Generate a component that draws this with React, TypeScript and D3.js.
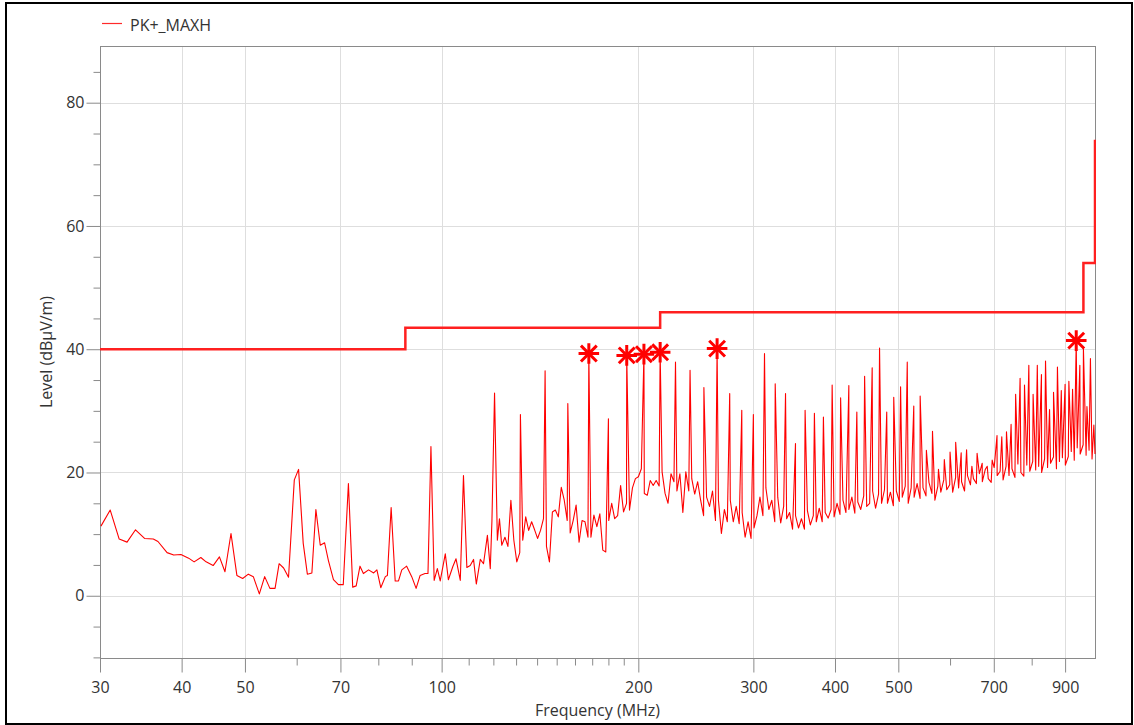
import { useEffect, useRef } from 'react';
import * as d3 from 'd3';

const WIDTH = 1134;
const HEIGHT = 725;

// Legend / titles
const traceName = 'PK+_MAXH';
const xTitle = 'Frequency (MHz)';
const yTitle = 'Level (dBµV/m)';

// Axis ticks
const freqMajor = [30, 40, 50, 70, 100, 200, 300, 400, 500, 700, 900];
const freqMinor = [60, 80, 90, 110, 120, 130, 140, 150, 160, 170, 180, 190, 600, 800];
const levelMajor = [0, 20, 40, 60, 80];
const levelMinor = [-10, -5, 5, 10, 15, 25, 30, 35, 45, 50, 55, 65, 70, 75, 85];

// Limit line (dBµV/m)
const limitFreq = [30, 88, 88, 216, 216, 960, 960, 1000, 1000];
const limitLevel = [40, 40, 43.5, 43.5, 46, 46, 54, 54, 74];

// Sweep readings 30 - 124 MHz
const lowFreq = [
    30.1, 31.1, 32.1, 33.0, 34.0, 35.1, 36.2, 36.8, 38.0, 38.9,
    39.9, 41.0, 41.8, 42.8, 43.6, 44.7, 45.7, 46.6, 47.6, 48.6,
    49.6, 50.6, 51.5, 52.6, 53.6, 54.6, 55.6, 56.4, 57.3, 58.3,
    59.5, 60.4, 61.4, 62.3, 63.3, 64.2, 65.2, 66.2, 67.1, 68.3,
    69.5, 70.7, 72.0, 73.1, 74.0, 75.0, 75.9, 77.3, 78.7, 79.6,
    80.7, 82.0, 82.6, 83.7, 84.9, 85.9, 86.9, 88.4, 90.0, 91.4,
    92.7, 94.3, 95.3, 96.3, 97.4, 98.5, 99.5, 101.3, 102.4, 104.0,
    105.2, 106.8, 108.0, 109.3, 110.6, 111.9, 113.0, 114.6, 115.9, 117.5,
    118.7, 119.4, 120.5, 121.7, 122.6, 123.6,
];
const lowLevel = [
    11.3, 13.9, 9.2, 8.7, 10.7, 9.3, 9.2, 8.8, 7.0, 6.6,
    6.7, 6.1, 5.5, 6.2, 5.5, 4.9, 6.3, 3.9, 10.1, 3.3,
    2.8, 3.5, 3.1, 0.3, 3.1, 1.2, 1.2, 5.2, 4.5, 3.0,
    18.8, 20.5, 8.5, 3.5, 3.7, 14.0, 8.2, 8.6, 5.7, 2.6,
    1.8, 1.8, 18.2, 1.4, 1.6, 4.8, 3.6, 4.2, 3.7, 4.2,
    1.3, 3.1, 3.3, 14.3, 2.4, 2.4, 4.2, 4.8, 3.1, 1.2,
    3.3, 3.6, 3.6, 24.2, 2.5, 4.4, 2.4, 6.8, 2.6, 4.7,
    6.0, 2.5, 19.5, 4.6, 4.9, 5.9, 1.9, 5.9, 5.2, 9.8,
    4.4, 12.2, 32.9, 9.0, 12.5, 8.2,
];

// Noise floor 125 - 1000 MHz, read on the receiver's log sweep grid
const floorStart = 125;
const floorStop = 1000;
const floorLevel = [
    9.5, 8.0, 15.5, 9.0, 5.5, 7.0, 9.0, 12.8, 10.6, 12.0,
    10.7, 9.3, 10.6, 12.5, 8.0, 5.5, 13.6, 13.9, 12.8, 17.6,
    15.5, 12.2, 10.2, 12.2, 14.7, 8.7, 12.2, 12.0, 9.5, 9.5,
    13.1, 11.2, 13.3, 7.4, 7.1, 12.2, 15.0, 12.5, 13.0, 17.9,
    13.6, 15.0, 13.9, 17.5, 19.0, 19.3, 20.6, 16.6, 16.3, 18.7,
    17.9, 18.7, 17.8, 20.1, 16.6, 15.0, 19.8, 18.5, 17.0, 19.8,
    13.5, 20.1, 17.0, 19.0, 16.5, 18.5, 15.5, 13.0, 16.0, 14.5,
    17.0, 12.2, 15.5, 10.1, 14.0, 12.0, 15.5, 12.0, 14.5, 11.7,
    13.5, 9.5, 12.0, 9.3, 11.0, 13.0, 16.0, 13.0, 17.5, 14.0,
    15.5, 12.0, 16.0, 11.8, 14.5, 12.5, 13.5, 10.8, 13.0, 11.0,
    12.5, 10.8, 13.8, 11.5, 13.0, 12.0, 14.2, 12.0, 13.5, 12.6,
    14.0, 12.8, 15.0, 13.2, 15.5, 13.5, 14.0, 16.0, 13.4, 15.2,
    14.0, 16.2, 14.5, 15.0, 17.0, 14.2, 16.5, 15.0, 17.2, 15.0,
    16.8, 14.6, 17.0, 15.3, 16.0, 17.8, 15.0, 17.5, 16.0, 18.2,
    15.8, 17.5, 16.2, 18.4, 16.6, 15.5, 17.8, 16.8, 18.8, 17.2,
    18.0, 16.8, 19.2, 17.5, 18.5, 17.0, 19.5, 18.0, 19.0, 18.2,
    19.8, 18.5, 20.5, 19.0, 18.4, 20.8, 19.5, 20.2, 18.8, 21.0,
    19.5, 20.6, 19.2, 21.4, 20.0, 19.4, 21.2, 20.2, 21.8, 20.4,
    21.0, 20.0, 22.2, 20.8, 21.5, 22.5, 20.6, 21.8, 22.4, 21.2,
    22.6, 23.4, 22.0, 24.0, 23.0, 24.5, 22.8, 23.6, 22.2, 23.0,
];

// 12 MHz comb peaks above 125 MHz
const peakFreq = [
    132, 144, 156, 168, 180, 192, 204, 216, 228, 240,
    252, 264, 276, 288, 300, 312, 324, 336, 348, 360,
    372, 384, 396, 408, 420, 432, 444, 456, 468, 480,
    492, 504, 516, 528, 540, 552, 564, 576, 588, 600,
    612, 624, 636, 648, 660, 672, 684, 696, 708, 720,
    732, 744, 756, 768, 780, 792, 804, 816, 828, 840,
    852, 864, 876, 888, 900, 912, 924, 936, 948, 960,
    972, 984, 996,
];
const peakLevel = [
    29.4, 36.5, 31.2, 39.3, 28.7, 39.0, 39.2, 39.5, 37.9, 36.6,
    33.8, 40.1, 32.8, 30.1, 29.4, 39.3, 34.4, 32.8, 24.7, 30.1,
    29.6, 29.0, 34.2, 32.1, 34.1, 29.8, 35.6, 37.0, 40.2, 29.8,
    32.2, 33.9, 37.9, 30.8, 32.4, 23.6, 26.7, 20.5, 22.1, 23.3,
    24.9, 23.2, 23.7, 21.0, 23.1, 21.5, 21.0, 22.0, 26.0, 25.8,
    26.6, 27.8, 32.7, 35.3, 34.2, 37.4, 32.7, 37.4, 35.9, 38.1,
    30.2, 33.0, 37.1, 33.3, 34.3, 34.8, 33.5, 41.4, 37.4, 40.1,
    30.7, 38.5, 27.7,
];

// Final measurement markers
const markerFreq = [168, 192, 204, 216, 264, 936];
const markerLevel = [39.3, 39.0, 39.2, 39.5, 40.1, 41.4];

interface Pt { f: number; v: number; }

export default function App() {
    const svgRef = useRef<SVGSVGElement>(null);

    useEffect(() => {
        if (!svgRef.current) return;
        const svg = d3.select(svgRef.current);
        svg.selectAll('*').remove();

        const left = 100, right = 1095, top = 46, bottom = 658;
        const font = "'Open Sans', 'Noto Sans', sans-serif";
        const axisColor = '#8a8a8a';
        const textColor = '#333333';

        const x = d3.scaleLog().domain([30, 1000]).range([left, right]);
        const y = d3.scaleLinear().domain([-10.1, 89.2]).range([bottom, top]);

        // outer frame
        svg.append('rect')
            .attr('x', 6).attr('y', 3)
            .attr('width', 1126).attr('height', 721)
            .attr('fill', 'white')
            .attr('stroke', 'black')
            .attr('stroke-width', 2);

        // grid
        const grid = svg.append('g').attr('stroke', '#dedede').attr('stroke-width', 1);
        grid.selectAll('line.v')
            .data(freqMajor.filter(d => d > 30))
            .join('line')
            .attr('x1', d => Math.round(x(d)) + 0.5).attr('x2', d => Math.round(x(d)) + 0.5)
            .attr('y1', top).attr('y2', bottom);
        grid.selectAll('line.h')
            .data(levelMajor)
            .join('line')
            .attr('x1', left).attr('x2', right)
            .attr('y1', d => Math.round(y(d)) + 0.5).attr('y2', d => Math.round(y(d)) + 0.5);

        // plot border
        svg.append('rect')
            .attr('x', left + 0.5).attr('y', top + 0.5)
            .attr('width', right - left).attr('height', bottom - top)
            .attr('fill', 'none')
            .attr('stroke', axisColor);

        // axes
        const styleAxis = (g: d3.Selection<SVGGElement, unknown, null, undefined>) => {
            g.select('.domain').remove();
            g.selectAll('line').attr('stroke', axisColor);
            g.selectAll('text').attr('fill', textColor).style('font-family', font).style('font-size', '16px');
        };

        svg.append('g')
            .attr('transform', `translate(0,${bottom + 0.5})`)
            .call(d3.axisBottom(x).tickValues(freqMajor).tickSize(14).tickPadding(9).tickFormat(d => String(d)))
            .call(styleAxis);
        svg.append('g')
            .attr('transform', `translate(0,${bottom + 0.5})`)
            .call(d3.axisBottom(x).tickValues(freqMinor).tickSize(7).tickFormat(() => ''))
            .call(styleAxis);
        svg.append('g')
            .attr('transform', `translate(${left + 0.5},0)`)
            .call(d3.axisLeft(y).tickValues(levelMajor).tickSize(14).tickPadding(2).tickFormat(d => String(d)))
            .call(styleAxis);
        svg.append('g')
            .attr('transform', `translate(${left + 0.5},0)`)
            .call(d3.axisLeft(y).tickValues(levelMinor).tickSize(7).tickFormat(() => ''))
            .call(styleAxis);

        // axis titles
        svg.append('text')
            .attr('x', (left + right) / 2).attr('y', 716)
            .attr('text-anchor', 'middle')
            .attr('fill', textColor)
            .style('font-family', font).style('font-size', '16px')
            .text(xTitle);
        svg.append('text')
            .attr('transform', `translate(52,${(top + bottom) / 2}) rotate(-90)`)
            .attr('text-anchor', 'middle')
            .attr('fill', textColor)
            .style('font-family', font).style('font-size', '16px')
            .text(yTitle);

        // legend
        svg.append('line')
            .attr('x1', 102).attr('x2', 122).attr('y1', 23.5).attr('y2', 23.5)
            .attr('stroke', '#ff2a2a').attr('stroke-width', 1.2);
        svg.append('text')
            .attr('x', 130).attr('y', 25)
            .attr('dominant-baseline', 'central')
            .attr('fill', textColor)
            .style('font-family', font).style('font-size', '16px')
            .text(traceName);

        // clip to plot area
        svg.append('clipPath').attr('id', 'plot-clip')
            .append('rect')
            .attr('x', left).attr('y', top)
            .attr('width', right - left + 1).attr('height', bottom - top);

        const plot = svg.append('g').attr('clip-path', 'url(#plot-clip)');

        // build the trace: low sweep + floor grid + comb peaks
        const floorFreq = floorLevel.map((_, i) =>
            floorStart * Math.pow(floorStop / floorStart, i / (floorLevel.length - 1)));
        const trace: Pt[] = [
            ...lowFreq.map((f, i) => ({ f, v: lowLevel[i] })),
            ...floorFreq.map((f, i) => ({ f, v: floorLevel[i] })),
            ...peakFreq.map((f, i) => ({ f, v: peakLevel[i] })),
        ].sort((a, b) => a.f - b.f);

        const line = d3.line<Pt>().x(d => x(d.f)).y(d => y(d.v));

        plot.append('path')
            .datum(trace)
            .attr('d', line)
            .attr('fill', 'none')
            .attr('stroke', '#ff0000')
            .attr('stroke-width', 1.1)
            .attr('stroke-linejoin', 'round');

        // limit line
        const limit: Pt[] = limitFreq.map((f, i) => ({ f, v: limitLevel[i] }));
        plot.append('path')
            .datum(limit)
            .attr('d', line)
            .attr('fill', 'none')
            .attr('stroke', '#ff2020')
            .attr('stroke-width', 2.5);

        // markers (plus + times = 8-ray star)
        const plus = d3.symbol().type(d3.symbolPlus).size(140);
        const times = d3.symbol().type(d3.symbolTimes).size(165);
        const markers = plot.selectAll('g.marker')
            .data(markerFreq.map((f, i) => ({ f, v: markerLevel[i] })))
            .join('g')
            .attr('transform', d => `translate(${x(d.f)},${y(d.v)})`)
            .attr('stroke', '#ff0000')
            .attr('stroke-width', 3)
            .attr('fill', 'none');
        markers.append('path').attr('d', plus() as string);
        markers.append('path').attr('d', times() as string);
    }, []);

    return (
        <svg
            ref={svgRef}
            width={WIDTH}
            height={HEIGHT}
            style={{ position: 'absolute', left: 0, top: 0, background: 'white' }}
        />
    );
}
